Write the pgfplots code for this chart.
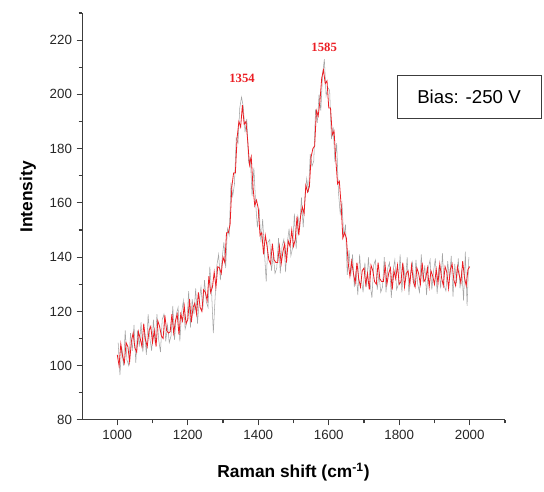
\documentclass[border=0pt]{standalone}
\usepackage{fontspec}
\setmainfont{Liberation Sans}
\newfontfamily\peakfont{Liberation Serif}
\usepackage{pgfplots}
\pgfplotsset{compat=1.18}
\definecolor{specred}{RGB}{235,30,36}
\definecolor{specgray}{RGB}{165,165,165}
\definecolor{axisgray}{RGB}{60,60,60}

% red trace
\pgfplotstableread{
x y
1000 104
1005 100
1010 108
1015 103.5
1020 101
1025 108.5
1030 107
1035 101.5
1040 109
1045 112
1050 106.5
1055 105
1060 112.5
1065 110
1070 107
1075 115.5
1080 109.5
1085 107
1090 113
1095 114.5
1100 108.5
1105 113
1110 107
1115 116.5
1120 114.5
1125 111
1130 110
1135 118.5
1140 113
1145 112
1150 112.5
1155 119
1160 112
1165 116.5
1170 119
1175 111.5
1180 119
1185 116.5
1190 122
1195 115.5
1200 117
1205 124.5
1210 116
1215 121.5
1220 123
1225 119
1230 127
1235 121.5
1240 120
1245 128
1250 127
1255 124
1260 133
1265 127
1270 129
1275 134.5
1280 129
1285 136.5
1290 136
1295 134
1300 140
1305 138
1310 149
1315 149
1320 152
1325 166
1330 171
1335 171
1340 184
1345 190
1350 188
1355 196
1360 189
1365 190
1370 183
1375 174
1380 177
1385 166
1390 159
1395 161
1400 158
1405 148
1410 149
1415 141
1420 148
1425 144
1430 139
1435 137.5
1440 145
1445 139
1450 138
1455 138
1460 144
1465 137.5
1470 142
1475 145
1480 138
1485 146
1490 144
1495 150
1500 144
1505 146.5
1510 155
1515 148
1520 155
1525 158.5
1530 156
1535 166.5
1540 164
1545 166
1550 177
1555 180
1560 181
1565 194
1570 192
1575 197.5
1580 206
1585 209
1590 204
1595 205
1600 195
1605 195
1610 185
1615 186.5
1620 176
1625 167
1630 168
1635 159.5
1640 147
1645 149
1650 147
1655 138
1660 133
1665 138.5
1670 134
1675 130.5
1680 138
1685 132
1690 129
1695 135
1700 136
1705 130
1710 134
1715 128
1720 137
1725 135
1730 131
1735 130
1740 138
1745 132
1750 131
1755 131
1760 137
1765 130
1770 134
1775 136
1780 128
1785 135
1790 132
1795 137
1800 130
1805 131
1810 138
1815 129
1820 134
1825 135
1830 130
1835 137
1840 131
1845 129
1850 136
1855 134
1860 130
1865 138
1870 131
1875 132
1880 136
1885 129
1890 135
1895 133
1900 130
1905 135.5
1910 130.5
1915 137.5
1920 132.5
1925 129.5
1930 136.5
1935 134.5
1940 128.5
1945 135.5
1950 137.5
1955 131.5
1960 129.5
1965 136.5
1970 133.5
1975 130.5
1980 138.5
1985 132.5
1990 129.5
1995 135.5
2000 136.5
}\redtrace

% grey trace (interleaved points)
\pgfplotstableread{
x y
1002.5 108.5
1007.5 96.5
1012.5 107
1017.5 100
1022.5 113
1027.5 102
1032.5 100
1037.5 112
1042.5 105.5
1047.5 115
1052.5 101
1057.5 113
1062.5 107
1067.5 116
1072.5 105
1077.5 112.5
1082.5 104
1087.5 119
1092.5 110
1097.5 105.5
1102.5 117
1107.5 108
1112.5 119
1117.5 109.5
1122.5 105
1127.5 117
1132.5 119
1137.5 109
1142.5 115
1147.5 108.5
1152.5 111
1157.5 122
1162.5 109.5
1167.5 119
1172.5 121.5
1177.5 109
1182.5 119.5
1187.5 124
1192.5 113.5
1197.5 116
1202.5 127.5
1207.5 114
1212.5 124.5
1217.5 119
1222.5 128.5
1227.5 115.5
1232.5 124
1237.5 129
1242.5 120.5
1247.5 131.5
1252.5 123.5
1257.5 121.5
1262.5 136.5
1267.5 127.5
1272.5 112
1277.5 125
1282.5 137
1287.5 141
1292.5 131.5
1297.5 139.5
1302.5 145.5
1307.5 136
1312.5 150.5
1317.5 148
1322.5 167.5
1327.5 162.5
1332.5 167
1337.5 184
1342.5 182
1347.5 195
1352.5 199
1357.5 195.5
1362.5 186
1367.5 191
1372.5 175
1377.5 176.5
1382.5 162.5
1387.5 173
1392.5 160
1397.5 151
1402.5 158
1407.5 145.5
1412.5 154
1417.5 142
1422.5 131
1427.5 145.5
1432.5 146.5
1437.5 135
1442.5 141
1447.5 134
1452.5 136
1457.5 147
1462.5 134
1467.5 144
1472.5 146.5
1477.5 134.5
1482.5 145.5
1487.5 150.5
1492.5 140.5
1497.5 143.5
1502.5 156
1507.5 143
1512.5 155
1517.5 151
1522.5 162
1527.5 151
1532.5 162
1537.5 169
1542.5 164
1547.5 178
1552.5 173.5
1557.5 175.5
1562.5 194.5
1567.5 189.5
1572.5 200
1577.5 194
1582.5 207.5
1587.5 213
1592.5 199.5
1597.5 202.5
1602.5 201.5
1607.5 183.5
1612.5 188
1617.5 175
1622.5 182
1627.5 164
1632.5 156
1637.5 160
1642.5 147.5
1647.5 152
1652.5 133.5
1657.5 142.5
1662.5 133
1667.5 141
1672.5 129
1677.5 135
1682.5 126
1687.5 141
1692.5 132
1697.5 127
1702.5 138
1707.5 129
1712.5 140
1717.5 130
1722.5 125
1727.5 137
1732.5 139
1737.5 128
1742.5 134
1747.5 127
1752.5 129
1757.5 140
1762.5 127
1767.5 136
1772.5 138
1777.5 125
1782.5 135
1787.5 139
1792.5 128
1797.5 130
1802.5 141
1807.5 127
1812.5 137
1817.5 131
1822.5 140
1827.5 126
1832.5 134
1837.5 138
1842.5 129
1847.5 139
1852.5 130
1857.5 127
1862.5 141
1867.5 131
1872.5 137
1877.5 126
1882.5 136
1887.5 139
1892.5 128
1897.5 135
1902.5 139.5
1907.5 126.5
1912.5 136.5
1917.5 128.5
1922.5 141.5
1927.5 129.5
1932.5 127.5
1937.5 138.5
1942.5 131.5
1947.5 140.5
1952.5 125.5
1957.5 137.5
1962.5 130.5
1967.5 139.5
1972.5 128.5
1977.5 135.5
1982.5 124
1987.5 142
1992.5 122
1997.5 140
}\graytrace

\begin{document}
\begin{tikzpicture}
\begin{axis}[
    width=317pt, height=305pt, scale only axis,
    xmin=900, xmax=2100, ymin=80, ymax=230,
    axis x line*=bottom, axis y line*=left,
    axis line style={axisgray, line width=0.8pt},
    xtick={1000,1200,...,2000},
    minor xtick={1100,1300,...,2100},
    ytick={80,100,...,220},
    minor ytick={90,110,...,230},
    tick align=outside,
    major tick length=4pt, minor tick length=2.5pt,
    tick style={axisgray, line width=0.8pt},
    scaled ticks=false,
    /pgf/number format/1000 sep={},
    /pgf/number format/assume math mode=true,
    ticklabel style={font=\fontsize{10}{11}\selectfont, text=black!85},
    xlabel={Raman shift (cm\textsuperscript{-1})},
    ylabel={Intensity},
    xlabel style={font=\fontsize{13}{15}\selectfont\bfseries, at={(axis description cs:0.5,-0.128)}, anchor=center},
    ylabel style={font=\fontsize{13}{15}\selectfont\bfseries, at={(axis description cs:-0.128,0.548)}, anchor=center},
    clip=false,
]
\addplot[specgray, line width=0.4pt] table {\graytrace};
\addplot[specred, line width=0.6pt] table {\redtrace};

\node[text=specred, font=\peakfont\bfseries\fontsize{9.5}{10}\selectfont] at (axis cs:1354,206) {1354};
\node[text=specred, font=\peakfont\bfseries\fontsize{9.5}{10}\selectfont] at (axis cs:1587,217.5) {1585};
\node[draw=axisgray, line width=0.6pt, minimum width=108pt, minimum height=32pt, inner sep=0pt,
      font=\fontsize{14}{16}\selectfont] at (axis cs:1998,199) {Bias: -250 V};

\coordinate (ll) at (rel axis cs:0,0);
\coordinate (ur) at (rel axis cs:1,1);
\end{axis}
\pgfresetboundingbox
\path ([shift={(-61.5pt,-54pt)}]ll) rectangle ([shift={(29.25pt,9.75pt)}]ur);
\end{tikzpicture}
\end{document}
